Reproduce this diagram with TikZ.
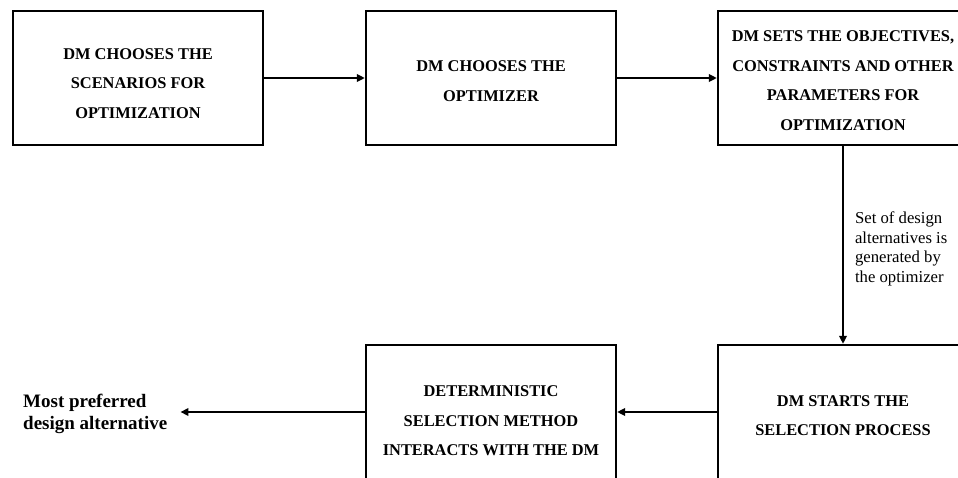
\documentclass[tikz,border=0pt]{standalone}
\usepackage{fontspec}
\setmainfont{Liberation Serif}
\usetikzlibrary{arrows.meta}
\begin{document}
\begin{tikzpicture}[x=1pt,y=-1pt,
  box/.style={draw, line width=2.3pt, minimum width=250pt, minimum height=134pt, inner sep=0pt},
  boxtxt/.style={align=center, inner sep=0pt, font=\fontsize{16.4}{29.5}\selectfont\bfseries},
  flow/.style={line width=2.1pt, -{Triangle[length=8pt,width=7.5pt]}},
  note/.style={align=left, inner sep=0pt, font=\fontsize{16.7}{19.8}\selectfont},
  result/.style={align=left, inner xsep=13pt, inner ysep=0pt, font=\fontsize{19}{22}\selectfont\bfseries}]
\useasboundingbox (0,0) rectangle (958,477);
\clip (0,0) rectangle (958,477);

% top row
\node[box, label={[boxtxt, yshift=-5.5pt]center:{DM CHOOSES THE\\SCENARIOS FOR\\OPTIMIZATION}}] (b1) at (138,78) {};
\node[box, label={[boxtxt, yshift=-3pt]center:{DM CHOOSES THE\\OPTIMIZER}}] (b2) at (491,78) {};
\node[box, label={[boxtxt, yshift=-2.5pt]center:{DM SETS THE OBJECTIVES,\\CONSTRAINTS AND OTHER\\PARAMETERS FOR\\OPTIMIZATION}}] (b3) at (843,78) {};

% bottom row
\node[box, label={[boxtxt, yshift=-9pt]center:{DETERMINISTIC\\SELECTION METHOD\\INTERACTS WITH THE DM}}] (b4) at (491,412) {};
\node[box, label={[boxtxt, yshift=-3.5pt]center:{DM STARTS THE\\SELECTION PROCESS}}] (b5) at (843,412) {};

% outcome
\node[result, anchor=west] (out) at (10,414) {Most preferred\\design alternative};

% connectors
\draw[flow] (b1) -- (b2);
\draw[flow] (b2) -- (b3);
\draw[flow] (b3.south) -- node[note, pos=0.52, right, xshift=11pt] (lbl) {Set of design\\alternatives is\\generated by\\the optimizer} (b5.north);
\draw[flow] (b5) -- (b4);
\draw[flow] (b4.west) -- (b4.west -| out.east);
\end{tikzpicture}
\end{document}
